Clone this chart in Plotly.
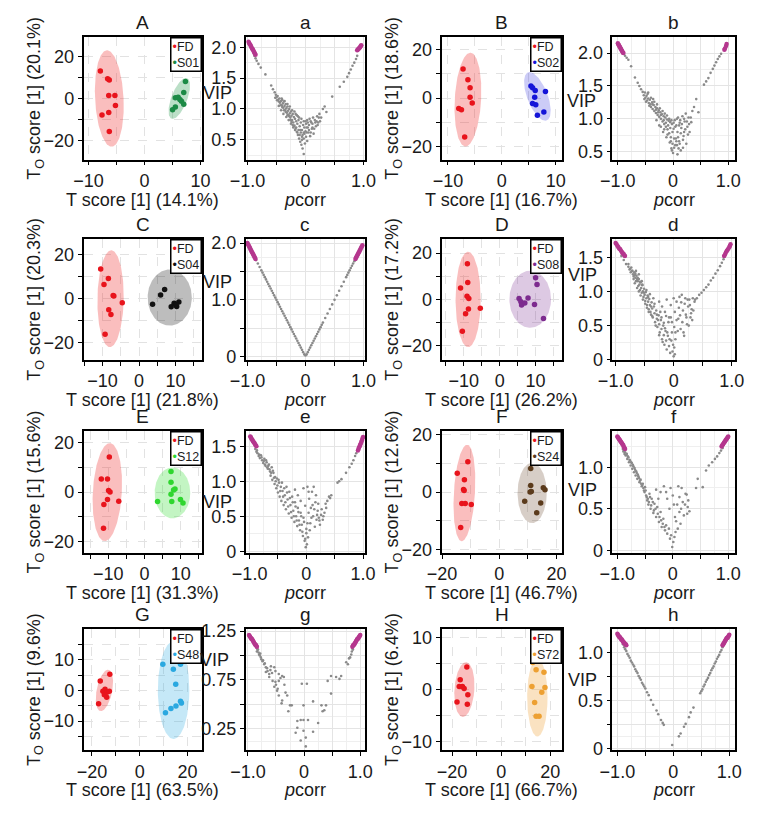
import numpy as np
import plotly.graph_objects as go

W, H = 770, 819
FONT = "Liberation Sans, Arial, Helvetica, sans-serif"
TXT = "#1a1a1a"

# ---------------- score plots (T score vs To score) ----------------
A_FD_X = [-7.9, -6.3, -6.6, -6.4, -5.3, -5.2, -7.6, -6.4, -6.3]
A_FD_Y = [13.0, 8.8, 9.3, 1.4, 1.4, -3.3, -7.9, -6.7, -15.7]
A_GR_X = [7.3, 7.0, 5.5, 6.0, 6.3, 6.6, 7.0, 5.5, 5.0]
A_GR_Y = [8.0, 2.8, 0.3, 0.6, -0.5, -1.3, -2.7, -4.0, -5.3]

B_FD_X = [-7.2, -6.3, -5.9, -5.9, -5.5, -8.0, -7.5, -6.9]
B_FD_Y = [12.0, 7.6, 4.3, 0.4, -2.0, -4.3, -4.8, -16.0]
B_GR_X = [5.4, 5.7, 6.2, 6.1, 5.7, 6.3, 8.1, 6.6, 7.8]
B_GR_Y = [5.0, 4.3, 3.1, 0.4, -2.2, -2.7, 2.7, -7.1, -5.7]

C_FD_X = [-10.5, -8.4, -9.6, -7.1, -6.9, -4.6, -8.3, -7.7, -9.3]
C_FD_Y = [13.5, 9.2, 6.5, 1.5, 1.2, -1.8, -5.1, -7.2, -16.2]
C_GR_X = [9.6, 7.0, 5.9, 3.7, 8.8, 9.6, 10.3, 10.9, 10.1]
C_GR_Y = [12.5, 4.2, 1.7, -2.5, -3.7, -2.1, -3.6, -1.5, -2.7]

D_FD_X = [-9.0, -8.9, -10.9, -9.1, -8.6, -8.7, -5.4, -9.5, -10.4]
D_FD_Y = [15.4, 7.3, 4.9, 1.3, 0.3, -4.2, -3.9, -6.3, -13.9]
D_GR_X = [10.0, 10.4, 5.4, 5.9, 6.1, 7.0, 7.9, 9.7, 12.2]
D_GR_Y = [9.3, 6.4, 0.3, -1.1, -2.5, -1.6, 0.5, -2.3, -8.4]

E_FD_X = [-9.7, -11.9, -10.2, -9.9, -9.5, -10.2, -11.2, -7.1, -11.3]
E_FD_Y = [14.2, 5.3, 5.3, 0.7, 0.0, -3.0, -5.0, -3.7, -14.6]
E_GR_X = [7.3, 7.3, 8.4, 8.0, 7.3, 3.6, 7.5, 9.9, 10.6]
E_GR_Y = [8.3, 4.0, 1.3, 0.9, -0.9, -3.8, -3.8, -3.0, -4.4]

F_FD_X = [-11.0, -14.7, -12.2, -12.5, -12.3, -13.1, -11.9, -9.8, -13.5]
F_FD_Y = [10.6, 6.6, 4.3, 0.9, 0.6, -4.0, -4.0, -4.3, -12.3]
F_GR_X = [11.0, 11.0, 10.8, 11.2, 15.4, 16.0, 8.9, 14.5, 13.1]
F_GR_Y = [8.2, 2.3, 0.0, 0.2, 1.5, 0.8, -3.2, -3.8, -7.2]

G_FD_X = [-12.5, -16.5, -14.5, -15.4, -13.7, -12.7, -13.8, -17.2, -14.8]
G_FD_Y = [5.3, 3.1, 0.4, -0.3, -0.6, -0.3, -2.2, -4.3, -1.4]
G_GR_X = [9.7, 17.1, 14.1, 15.1, 17.1, 17.5, 15.2, 13.1, 10.8]
G_GR_Y = [8.5, 8.5, 6.9, 2.0, -3.5, -4.1, -5.1, -5.9, -7.3]

H_FD_X = [-14.0, -16.7, -17.1, -15.8, -15.1, -13.6, -18.0, -13.8]
H_FD_Y = [4.3, 1.9, 0.6, 0.6, 0.2, -1.0, -2.4, -2.8]
H_GR_X = [12.8, 14.2, 17.4, 12.5, 17.8, 16.5, 13.6, 14.2, 15.4]
H_GR_Y = [5.2, 3.8, 3.3, 0.6, 0.4, -0.5, -2.5, -5.1, -5.1]

# confidence ellipses: centre x, centre y, x radius, y radius, shear of x with y
A_ELL_FD = [-6.3, 0.0, 2.55, 22.9, -0.4]
A_ELL_GR = [6.2, 0.0, 1.5, 9.7, 1.2]
B_ELL_FD = [-6.3, -0.6, 2.45, 19.3, 0.45]
B_ELL_GR = [6.6, 0.7, 2.0, 10.0, -1.45]
C_ELL_FD = [-7.8, 0.0, 3.6, 22.1, 0.2]
C_ELL_GR = [8.4, 0.5, 6.05, 12.8, 0.0]
D_ELL_FD = [-8.8, -0.1, 3.5, 20.7, 0.0]
D_ELL_GR = [8.5, 0.0, 5.8, 12.4, 0.0]
E_ELL_FD = [-10.25, 0.0, 4.0, 19.8, 0.7]
E_ELL_GR = [7.7, -0.3, 4.9, 10.3, 0.0]
F_ELL_FD = [-12.2, -0.3, 3.7, 16.8, 0.95]
F_ELL_GR = [11.5, -0.3, 5.1, 10.5, 0.0]
G_ELL_FD = [-14.75, 0.0, 3.3, 6.75, 1.5]
G_ELL_GR = [14.2, 0.1, 6.6, 15.9, 0.0]
H_ELL_FD = [-15.0, 0.0, 4.05, 5.25, 0.66]
H_ELL_GR = [14.7, -1.5, 4.15, 7.5, 0.0]

GROUPS = ["S01", "S02", "S04", "S08", "S12", "S24", "S48", "S72"]
T_PCT = ["14.1%", "16.7%", "21.8%", "26.2%", "31.3%", "46.7%", "63.5%", "66.7%"]
TO_PCT = ["20.1%", "18.6%", "20.3%", "17.2%", "15.6%", "12.6%", "9.6%", "6.4%"]

# ---------------- VIP vs pcorr ----------------
VA_PC = [-0.88,-0.86,-0.84,-0.81,-0.77,-0.69,-0.59,-0.56,-0.53,-0.51,
         -0.50,-0.48,-0.47,-0.45,-0.44,-0.42,-0.41,-0.40,-0.39,-0.38,
         -0.37,-0.36,-0.35,-0.34,-0.33,-0.32,-0.31,-0.30,-0.29,-0.28,
         -0.27,-0.26,-0.25,-0.24,-0.23,-0.22,-0.21,-0.20,-0.19,-0.18,
         -0.17,-0.16,-0.15,-0.14,-0.13,-0.12,-0.11,-0.10,-0.09,-0.08,
         -0.07,-0.06,-0.05,-0.04,-0.03,-0.02,-0.01,0.00,0.01,0.02,
         0.03,0.04,0.05,0.06,0.08,0.09,0.11,0.12,0.14,0.16,
         0.18,0.20,0.22,0.24,0.27,0.30,0.33,0.36,0.46,0.59,
         0.66,0.72,0.75,0.78,0.81,0.84,0.87,0.89,-0.46,-0.42,
         -0.38,-0.33,-0.29,-0.25,-0.21,-0.17,-0.13,-0.09,-0.06,-0.03,
         -0.52,-0.49,-0.46,-0.43,-0.40,-0.37,-0.34,-0.31,-0.28,-0.26,
         -0.24,-0.22,-0.20,-0.18,-0.16,-0.14,-0.12,-0.10,-0.08,-0.06,
         -0.05,-0.03,-0.02,0.00,0.01,0.02,0.03,0.04,0.06,0.07,
         0.09,0.10,0.12,0.13,0.15,0.17,0.19,0.21,0.23,0.25,
         -0.41,-0.36,-0.31,-0.27,-0.23,-0.19,-0.15,-0.11,-0.07,-0.03]
VA_V = [1.86,1.82,1.78,1.73,1.67,1.56,1.38,1.32,1.27,1.23,
        1.19,1.21,1.15,1.17,1.10,1.13,1.06,1.15,1.09,1.02,
        1.12,1.05,0.98,1.08,1.01,0.94,1.04,0.97,0.90,1.00,
        0.93,0.86,0.96,0.89,0.82,0.92,0.78,0.87,0.73,0.84,
        0.68,0.80,0.63,0.76,0.58,0.82,0.52,0.72,0.47,0.78,
        0.42,0.66,0.36,0.74,0.27,0.60,0.44,0.80,0.55,0.70,
        0.48,0.78,0.62,0.74,0.56,0.80,0.68,0.76,0.60,0.82,
        0.72,0.88,0.78,0.92,0.86,1.00,1.04,0.95,1.20,1.36,
        1.44,1.52,1.58,1.64,1.70,1.75,1.81,1.86,1.05,0.98,
        0.92,0.87,0.82,0.76,0.70,0.92,0.88,0.66,0.55,0.62,
        1.18,1.14,1.12,1.06,1.03,0.98,0.95,0.90,0.88,0.82,
        0.79,0.74,0.72,0.66,0.70,0.62,0.66,0.58,0.62,0.50,
        0.58,0.52,0.70,0.64,0.76,0.62,0.82,0.70,0.66,0.84,
        0.62,0.78,0.70,0.86,0.68,0.78,0.80,0.74,0.86,0.80,
        1.17,1.13,1.08,1.04,0.98,0.96,0.90,0.86,0.84,0.80]
MA_PC = [-0.98,-0.97,-0.96,-0.95,-0.94,-0.93,-0.92,-0.91,-0.90,-0.89,-0.88,-0.87,-0.86,
         0.89,0.90,0.91,0.92,0.93,0.94,0.95,0.96]
MA_V = [2.09,2.07,2.05,2.04,2.02,2.00,1.98,1.97,1.95,1.93,1.91,1.90,1.88,
        1.95,1.96,1.97,1.98,1.99,2.00,2.02,2.03]

VB_PC = [-0.90,-0.87,-0.84,-0.81,-0.76,-0.69,-0.64,-0.61,-0.58,-0.55,
         -0.53,-0.51,-0.50,-0.48,-0.47,-0.45,-0.44,-0.42,-0.41,-0.40,
         -0.38,-0.37,-0.35,-0.34,-0.32,-0.31,-0.29,-0.28,-0.26,-0.25,
         -0.23,-0.22,-0.20,-0.19,-0.17,-0.16,-0.14,-0.13,-0.11,-0.10,
         -0.08,-0.07,-0.05,-0.04,-0.02,-0.01,0.00,0.01,0.02,0.03,
         0.05,0.06,0.08,0.09,0.11,0.12,0.14,0.15,0.17,0.19,
         0.21,0.23,0.24,0.26,0.28,0.30,0.33,0.38,0.42,0.46,
         -0.30,-0.25,-0.18,-0.12,-0.06,-0.03,0.07,0.10,0.56,0.60,
         0.64,0.68,0.72,0.75,0.78,0.81,0.84,0.87,-0.45,-0.36,
         -0.52,-0.49,-0.46,-0.43,-0.40,-0.37,-0.34,-0.31,-0.29,-0.27,
         -0.24,-0.22,-0.19,-0.17,-0.15,-0.13,-0.11,-0.09,-0.07,-0.05,
         -0.03,-0.01,0.01,0.02,0.04,0.06,0.07,0.09,0.11,0.13,
         0.14,0.16,0.18,0.20,0.22,0.25,0.27,0.29,0.32,0.35,
         -0.22,-0.16,-0.10,-0.04,0.04,0.12,0.18,0.08,-0.02,0.20]
VB_V = [2.00,1.96,1.93,1.90,1.80,1.63,1.55,1.50,1.45,1.41,
        1.36,1.40,1.32,1.35,1.28,1.31,1.24,1.29,1.22,1.18,
        1.25,1.15,1.21,1.12,1.18,1.09,1.16,1.06,1.13,1.03,
        1.10,1.00,1.07,0.96,1.04,0.92,1.02,0.88,0.99,0.84,
        0.97,0.78,0.95,0.72,0.92,0.62,0.48,0.85,0.56,0.98,
        0.70,0.90,0.80,1.02,0.66,0.94,0.52,0.86,1.04,0.74,
        0.96,1.08,0.62,0.88,1.02,0.80,0.95,1.18,1.30,1.10,
        0.98,0.90,0.80,0.72,0.64,0.55,0.60,0.55,1.52,1.57,
        1.62,1.70,1.76,1.81,1.86,1.91,1.95,1.99,1.40,1.30,
        1.30,1.26,1.38,1.20,1.32,1.22,1.26,1.14,1.22,1.10,
        1.16,1.06,1.12,0.98,1.08,0.94,1.05,0.90,1.00,0.86,
        0.98,0.80,0.94,0.70,0.88,0.66,1.00,0.72,0.90,0.98,
        0.78,0.92,0.68,1.00,0.84,0.96,0.76,0.92,1.02,1.12,
        0.88,0.84,0.76,0.66,0.60,0.62,0.56,0.46,0.52,0.80]
MB_PC = [-1.00,-0.99,-0.98,-0.97,-0.96,-0.95,-0.94,-0.93,-0.92,-0.91,-0.90,
         0.93,0.94,0.96,0.97]
MB_V = [2.15,2.13,2.12,2.10,2.09,2.07,2.06,2.04,2.03,2.01,2.00,
        2.05,2.07,2.11,2.14]

VC_PC = [-0.91,-0.88,-0.85,-0.82,-0.79,-0.76,-0.74,-0.72,-0.70,-0.68,
         -0.66,-0.64,-0.62,-0.60,-0.58,-0.56,-0.54,-0.52,-0.50,-0.48,
         -0.46,-0.44,-0.42,-0.40,-0.38,-0.36,-0.34,-0.32,-0.30,-0.28,
         -0.26,-0.24,-0.22,-0.20,-0.18,-0.16,-0.14,-0.12,-0.10,-0.08,
         -0.06,-0.04,-0.02,
         0.00,0.02,0.04,0.06,0.08,0.10,0.12,0.14,0.16,0.18,
         0.20,0.22,0.24,0.26,0.28,0.30,0.34,0.38,0.42,0.46,
         0.50,0.54,0.58,0.62,0.66,0.70,0.72,0.74,0.76,0.78,
         0.80,0.82,0.84,0.86,0.88,0.90,0.92]
VC_V = [1.82,1.76,1.70,1.64,1.58,1.52,1.48,1.44,1.40,1.36,
        1.32,1.28,1.24,1.20,1.16,1.12,1.08,1.04,1.00,0.96,
        0.92,0.88,0.84,0.80,0.76,0.72,0.68,0.64,0.60,0.56,
        0.52,0.48,0.44,0.40,0.36,0.32,0.28,0.24,0.20,0.16,
        0.12,0.08,0.04,
        0.02,0.04,0.08,0.12,0.16,0.20,0.24,0.28,0.32,0.36,
        0.40,0.44,0.48,0.52,0.56,0.60,0.68,0.76,0.84,0.92,
        1.00,1.08,1.16,1.24,1.32,1.40,1.44,1.48,1.52,1.56,
        1.60,1.64,1.68,1.72,1.76,1.80,1.84]
MC_PC = [-1.00,-0.99,-0.98,-0.97,-0.96,-0.95,-0.94,-0.93,-0.92,-0.91,-0.90,-0.89,-0.88,-0.87,-0.86,
         0.86,0.87,0.88,0.89,0.90,0.91,0.92,0.93,0.94,0.95,0.96,0.97,0.98]
MC_V = [2.00,1.98,1.96,1.94,1.92,1.90,1.88,1.86,1.84,1.82,1.80,1.78,1.76,1.74,1.72,
        1.72,1.74,1.76,1.78,1.80,1.82,1.84,1.86,1.88,1.90,1.92,1.94,1.96]

VD_PC = [-0.90,-0.86,-0.82,-0.78,-0.75,-0.73,-0.70,-0.68,-0.66,-0.64,
         -0.62,-0.60,-0.59,-0.57,-0.56,-0.54,-0.53,-0.51,-0.50,-0.48,
         -0.47,-0.45,-0.44,-0.42,-0.41,-0.40,-0.38,-0.37,-0.36,-0.34,
         -0.33,-0.32,-0.30,-0.29,-0.28,-0.26,-0.25,-0.24,-0.22,-0.21,
         -0.20,-0.18,-0.17,-0.16,-0.14,-0.13,-0.12,-0.10,-0.08,-0.06,
         -0.04,-0.02,0.00,0.01,-0.25,-0.20,-0.15,-0.12,-0.08,-0.05,
         -0.03,0.00,0.02,0.03,0.05,0.08,0.10,0.12,0.14,0.16,
         0.18,0.20,0.22,0.24,0.26,0.28,0.30,0.32,0.34,0.36,
         0.40,0.44,0.48,0.52,0.56,0.60,0.64,0.68,0.72,0.76,
         0.80,0.83,0.86,0.88,-0.72,-0.69,-0.67,-0.65,-0.63,-0.61,
         -0.58,-0.55,-0.52,-0.49,-0.46,-0.43,-0.39,-0.55,-0.60,-0.65,
         -0.78,-0.76,-0.74,-0.71,-0.69,-0.67,-0.66,-0.63,-0.62,-0.60,
         -0.58,-0.57,-0.54,-0.53,-0.51,-0.49,-0.47,-0.46,-0.44,-0.43,
         -0.41,-0.39,-0.37,-0.35,-0.33,-0.31,-0.29,-0.27,-0.25,-0.23,
         -0.21,-0.19,-0.17,-0.15,-0.13,-0.11,-0.09,-0.07,-0.05,-0.03,
         -0.01,0.01,0.02,0.03,0.05,0.07,0.09,0.11,0.13,0.15,
         0.17,0.19,0.21,0.23,0.25,0.27,0.29,0.31,0.33,0.37]
VD_V = [1.52,1.46,1.40,1.36,1.33,1.35,1.25,1.28,1.20,1.23,
        1.15,1.18,1.10,1.13,1.05,1.09,1.00,1.04,0.95,0.99,
        0.90,0.94,0.85,0.89,0.80,0.70,0.84,0.75,0.62,0.78,
        0.68,0.55,0.72,0.60,0.48,0.65,0.52,0.40,0.58,0.45,
        0.30,0.50,0.36,0.22,0.42,0.28,0.15,0.35,0.20,0.10,
        0.28,0.12,0.05,0.18,0.85,0.78,0.70,0.88,0.62,0.80,
        0.55,0.90,0.70,0.40,0.85,0.60,0.92,0.45,0.95,0.72,
        0.35,0.90,0.62,0.88,0.50,0.80,0.68,0.58,0.72,0.85,
        0.90,0.95,0.98,1.02,1.06,1.10,1.16,1.20,1.26,1.31,
        1.37,1.42,1.47,1.51,1.30,1.22,1.24,1.15,1.18,1.08,
        1.02,0.98,0.92,0.86,0.80,0.74,0.66,1.15,1.25,1.30,
        1.40,1.32,1.28,1.30,1.18,1.12,1.26,1.05,1.20,1.00,
        1.14,0.94,1.10,0.88,0.98,0.82,1.02,0.76,0.92,0.70,
        0.96,0.78,0.64,0.90,0.82,0.50,0.66,0.58,0.36,0.70,
        0.62,0.26,0.54,0.46,0.64,0.40,0.55,0.30,0.62,0.40,
        0.22,0.48,0.08,0.30,0.58,0.42,0.76,0.65,0.84,0.55,
        0.40,0.82,0.66,0.52,0.78,0.88,0.62,0.74,0.90,0.88]
MD_PC = [-1.00,-0.985,-0.97,-0.955,-0.94,-0.925,-0.91,-0.895,-0.88,-0.865,-0.85,-0.84,
         0.87,0.885,0.90,0.915,0.93,0.945,0.96,0.97,0.98]
MD_V = [1.71,1.69,1.67,1.65,1.63,1.62,1.60,1.58,1.56,1.55,1.53,1.52,
        1.52,1.54,1.57,1.59,1.61,1.63,1.65,1.67,1.69]

VE_PC = [-0.90,-0.88,-0.86,-0.84,-0.82,-0.80,-0.78,-0.76,-0.74,-0.72,
         -0.70,-0.68,-0.66,-0.64,-0.63,-0.61,-0.60,-0.58,-0.56,-0.55,
         -0.53,-0.52,-0.50,-0.48,-0.47,-0.45,-0.44,-0.42,-0.40,-0.38,
         -0.36,-0.35,-0.33,-0.31,-0.30,-0.28,-0.26,-0.25,-0.23,-0.21,
         -0.20,-0.18,-0.16,-0.15,-0.13,-0.11,-0.10,-0.08,-0.06,-0.05,
         -0.03,-0.01,0.00,0.01,-0.20,-0.15,-0.10,-0.05,-0.02,0.02,
         0.04,0.05,0.07,0.08,0.10,0.12,0.13,0.15,0.16,0.18,
         0.20,0.22,0.24,0.26,0.29,0.32,0.35,0.40,0.42,0.44,
         0.55,0.58,0.62,0.70,0.76,0.80,0.83,0.86,0.88,0.90,
         -0.87,-0.83,-0.79,-0.75,-0.73,-0.71,-0.69,-0.67,-0.65,-0.62,
         -0.59,-0.57,-0.54,-0.51,-0.49,-0.46,-0.43,-0.41,-0.39,-0.37,
         -0.34,-0.32,-0.29,-0.27,-0.24,-0.22,-0.19,-0.17,-0.14,-0.12,
         -0.09,-0.07,-0.04,-0.02,0.00,0.02,0.03,0.06,0.09,0.11,
         0.14,0.17,0.19,0.21,0.23,0.27,0.30,0.34,0.37,0.04]
VE_V = [1.46,1.42,1.40,1.36,1.33,1.37,1.30,1.26,1.32,1.22,
        1.27,1.18,1.24,1.14,1.08,1.20,1.02,1.12,0.96,1.06,
        0.90,1.04,0.84,0.98,0.78,0.92,0.72,0.86,0.66,0.80,
        0.60,0.92,0.74,0.54,0.85,0.66,0.48,0.78,0.58,0.42,
        0.70,0.50,0.36,0.62,0.44,0.30,0.55,0.38,0.22,0.48,
        0.15,0.06,0.32,0.10,0.88,0.80,0.72,0.90,0.65,0.92,
        0.55,0.75,0.40,0.62,0.85,0.50,0.92,0.35,0.70,0.45,
        0.58,0.48,0.38,0.52,0.45,0.55,0.62,0.78,0.76,0.80,
        0.98,1.00,1.03,1.12,1.20,1.25,1.30,1.36,1.40,1.44,
        1.44,1.38,1.34,1.29,1.24,1.30,1.20,1.22,1.17,1.12,
        1.15,1.05,1.00,0.94,1.02,0.86,0.98,0.78,0.90,0.70,
        0.84,0.64,0.76,0.56,0.70,0.50,0.64,0.44,0.56,0.38,
        0.50,0.28,0.42,0.18,0.26,0.40,0.20,0.30,0.48,0.66,
        0.60,0.80,0.52,0.68,0.44,0.60,0.50,0.68,0.72,0.85]
ME_PC = [-0.99,-0.98,-0.97,-0.96,-0.95,-0.94,-0.93,-0.92,-0.91,-0.90,-0.89,-0.88,
         0.91,0.92,0.93,0.94,0.95,0.96,0.97,0.98,0.99,1.00]
ME_V = [1.64,1.63,1.61,1.60,1.59,1.57,1.56,1.55,1.54,1.52,1.51,1.50,
        1.44,1.46,1.48,1.50,1.52,1.54,1.56,1.58,1.61,1.63]

VF_PC = [-0.90,-0.88,-0.86,-0.85,-0.83,-0.82,-0.80,-0.79,-0.77,-0.76,
         -0.74,-0.73,-0.71,-0.70,-0.68,-0.67,-0.65,-0.64,-0.62,-0.60,
         -0.58,-0.56,-0.54,-0.52,-0.50,-0.48,-0.46,-0.44,-0.42,-0.40,
         -0.38,-0.35,-0.33,-0.30,-0.28,-0.25,-0.22,-0.20,-0.17,-0.14,
         -0.12,-0.10,-0.07,-0.05,-0.03,-0.01,0.01,0.03,-0.30,-0.22,
         -0.16,-0.10,-0.04,0.02,0.06,0.10,0.12,0.16,0.18,0.20,
         0.23,0.25,0.27,0.28,0.30,0.09,0.05,0.14,0.42,0.45,
         0.54,0.60,0.65,0.71,0.76,0.80,0.84,0.87,0.90,-0.87,
         -0.89,-0.87,-0.84,-0.81,-0.78,-0.75,-0.72,-0.69,-0.66,-0.63,
         -0.61,-0.59,-0.57,-0.55,-0.53,-0.51,-0.49,-0.47,-0.45,-0.43,
         -0.41,-0.39,-0.36,-0.34,-0.31,-0.27,-0.24,-0.21,-0.18,-0.15,
         -0.26,-0.12,-0.06,0.00,0.04,0.08,0.12,0.15,0.22,0.26]
VF_V = [1.22,1.20,1.18,1.14,1.16,1.10,1.12,1.06,1.08,1.02,
        1.05,0.98,1.01,0.94,0.97,0.90,0.93,0.86,0.89,0.82,
        0.85,0.77,0.80,0.72,0.76,0.66,0.60,0.55,0.68,0.50,
        0.62,0.45,0.56,0.40,0.52,0.34,0.46,0.28,0.38,0.24,
        0.30,0.20,0.26,0.14,0.18,0.04,0.10,0.16,0.73,0.70,
        0.77,0.62,0.75,0.55,0.35,0.77,0.46,0.75,0.58,0.42,
        0.68,0.67,0.52,0.60,0.47,0.26,0.22,0.32,0.75,0.86,
        0.76,0.96,1.02,1.06,1.10,1.13,1.17,1.20,1.23,1.16,
        1.19,1.21,1.15,1.13,1.09,1.06,1.03,0.99,0.95,0.91,
        0.87,0.84,0.80,0.78,0.75,0.70,0.72,0.64,0.62,0.58,
        0.64,0.54,0.58,0.48,0.50,0.44,0.40,0.36,0.32,0.28,
        0.62,0.70,0.50,0.66,0.40,0.55,0.64,0.50,0.55,0.44]
MF_PC = [-1.00,-0.99,-0.98,-0.97,-0.96,-0.95,-0.94,-0.93,-0.92,-0.91,-0.90,-0.89,-0.88,-0.87,-0.86,
         0.88,0.89,0.90,0.91,0.92,0.93,0.94,0.95,0.96,0.97,0.98,0.99,1.00]
MF_V = [1.37,1.36,1.35,1.34,1.33,1.32,1.31,1.30,1.29,1.28,1.27,1.26,1.24,1.23,1.22,
        1.25,1.26,1.27,1.28,1.29,1.30,1.31,1.32,1.33,1.34,1.35,1.36,1.37]

VG_PC = [-0.83,-0.80,-0.77,-0.74,-0.71,-0.68,-0.65,-0.62,-0.68,-0.59,
         -0.53,-0.51,-0.45,-0.39,-0.36,-0.56,-0.51,-0.45,-0.53,-0.48,
         -0.45,-0.30,-0.39,-0.40,-0.22,-0.25,-0.28,-0.01,-0.04,0.05,
         0.16,0.31,0.39,0.36,0.33,0.25,0.48,0.42,0.48,0.57,
         0.63,0.66,0.75,0.78,0.84,0.87,-0.12,-0.06,-0.01,0.07,
         -0.12,-0.15,-0.01,-0.06,0.03,0.03,0.16,-0.86,-0.85,-0.84,
         -0.82,-0.81,-0.79,-0.78,-0.76,-0.73,-0.70,-0.66,-0.60,-0.57,
         0.82,0.85,-0.42,-0.62,-0.50,-0.47,-0.35,-0.33,0.80,0.86]
VG_V = [1.06,1.01,0.98,0.94,0.91,0.88,0.84,0.81,0.83,0.89,
        0.88,0.84,0.81,0.79,0.78,0.74,0.73,0.74,0.68,0.64,
        0.59,0.59,0.54,0.51,0.49,0.49,0.43,0.49,0.71,0.71,
        0.53,0.49,0.49,0.44,0.43,0.31,0.61,0.74,0.79,0.78,
        0.76,0.79,0.93,0.91,1.01,1.06,0.33,0.34,0.34,0.34,
        0.26,0.21,0.23,0.13,0.16,0.07,0.22,1.10,1.08,1.04,
        1.06,1.03,1.00,1.02,0.96,0.95,0.92,0.87,0.85,0.82,
        0.98,1.04,0.77,0.78,0.70,0.66,0.70,0.62,0.97,1.07]
MG_PC = [-0.98,-0.97,-0.96,-0.95,-0.94,-0.93,-0.92,-0.91,-0.90,-0.89,-0.88,-0.87,-0.86,-0.85,-0.84,
         0.86,0.87,0.88,0.89,0.90,0.91,0.92,0.93,0.94,0.95,0.96,0.97,0.98,0.99,1.00]
MG_V = [1.21,1.20,1.19,1.18,1.17,1.17,1.16,1.15,1.14,1.13,1.12,1.11,1.11,1.10,1.09,
        1.09,1.10,1.11,1.11,1.12,1.13,1.14,1.15,1.16,1.17,1.17,1.18,1.19,1.20,1.21]

VH_PC = [-0.90,-0.88,-0.86,-0.84,-0.82,-0.80,-0.78,-0.76,-0.74,-0.72,
         -0.70,-0.68,-0.66,-0.64,-0.62,-0.60,-0.58,-0.56,-0.54,-0.52,
         -0.50,-0.47,-0.44,-0.40,-0.36,-0.30,-0.27,-0.22,-0.19,-0.17,
         -0.02,
         0.10,0.13,0.19,0.22,0.28,0.31,0.36,0.48,0.50,0.52,
         0.54,0.56,0.58,0.60,0.62,0.64,0.66,0.68,0.70,0.72,
         0.74,0.76,0.78,0.80,0.82,0.84,0.86,0.88,0.90]
VH_V = [1.09,1.06,1.04,1.02,0.99,0.97,0.95,0.92,0.90,0.88,
        0.86,0.83,0.81,0.79,0.76,0.74,0.72,0.69,0.67,0.65,
        0.63,0.59,0.56,0.51,0.46,0.40,0.36,0.30,0.27,0.25,
        0.04,
        0.13,0.16,0.23,0.26,0.33,0.38,0.43,0.58,0.60,0.62,
        0.65,0.67,0.70,0.72,0.74,0.77,0.79,0.82,0.84,0.86,
        0.89,0.91,0.94,0.96,0.98,1.01,1.03,1.06,1.08]
MH_PC = [-1.00,-0.99,-0.98,-0.97,-0.96,-0.95,-0.94,-0.93,-0.92,-0.91,-0.90,-0.89,-0.88,-0.87,-0.86,-0.85,-0.84,
         0.88,0.89,0.90,0.91,0.92,0.93,0.94,0.95,0.96,0.97,0.98,0.99,1.00]
MH_V = [1.20,1.19,1.18,1.17,1.17,1.16,1.15,1.14,1.14,1.13,1.12,1.11,1.11,1.10,1.09,1.09,1.08,
        1.08,1.09,1.10,1.11,1.12,1.13,1.14,1.15,1.16,1.16,1.17,1.18,1.19]

# ---------------- styling ----------------
RED = "#e8141c"
RED_FILL = "rgba(240,40,40,0.30)"
GCOL = ["#1b8a45", "#1515d8", "#111111", "#7d2b8f", "#2fd62f", "#5b3b1c", "#2aa8e0", "#eda032"]
GFILL = ["rgba(30,150,70,0.30)", "rgba(40,40,220,0.24)", "rgba(0,0,0,0.26)",
         "rgba(125,45,145,0.26)", "rgba(40,220,40,0.28)", "rgba(95,60,30,0.25)",
         "rgba(40,170,225,0.27)", "rgba(240,160,50,0.30)"]
GREY = "#8a8a8a"
MAG = "#b5378e"

COL_PX = [(70, 193), (238, 362), (441, 566), (618, 745)]
ROW_PX = [(30, 155), (236, 360), (433, 557), (635, 759)]

M = "\u2212"
def tl(vals, show):
    return [(M + str(abs(v)) if v < 0 else str(v)) if s else "" for v, s in zip(vals, show)]

SCORE = [
    dict(L="A", fd=(A_FD_X, A_FD_Y), gr=(A_GR_X, A_GR_Y), e=(A_ELL_FD, A_ELL_GR),
         xr=[-10.9, 10.3], xv=[-10, -5, 0, 5, 10], xs=[1, 0, 1, 0, 1],
         yr=[-29, 29], yv=[-20, -10, 0, 10, 20], ys=[1, 0, 1, 0, 1]),
    dict(L="B", fd=(B_FD_X, B_FD_Y), gr=(B_GR_X, B_GR_Y), e=(B_ELL_FD, B_ELL_GR),
         xr=[-11.2, 11.2], xv=[-10, -5, 0, 5, 10], xs=[1, 0, 1, 0, 1],
         yr=[-25.3, 25], yv=[-20, -10, 0, 10, 20], ys=[1, 0, 1, 0, 1]),
    dict(L="C", fd=(C_FD_X, C_FD_Y), gr=(C_GR_X, C_GR_Y), e=(C_ELL_FD, C_ELL_GR),
         xr=[-15.2, 17.3], xv=[-15, -10, -5, 0, 5, 10, 15], xs=[0, 1, 0, 1, 0, 1, 0],
         yr=[-28, 27.3], yv=[-20, -10, 0, 10, 20], ys=[1, 0, 1, 0, 1]),
    dict(L="D", fd=(D_FD_X, D_FD_Y), gr=(D_GR_X, D_GR_Y), e=(D_ELL_FD, D_ELL_GR),
         xr=[-16.2, 17.4], xv=[-15, -10, -5, 0, 5, 10, 15], xs=[0, 1, 0, 1, 0, 1, 0],
         yr=[-26.4, 26.2], yv=[-20, -10, 0, 10, 20], ys=[1, 0, 1, 0, 1]),
    dict(L="E", fd=(E_FD_X, E_FD_Y), gr=(E_GR_X, E_GR_Y), e=(E_ELL_FD, E_ELL_GR),
         xr=[-16.8, 15.9], xv=[-15, -10, -5, 0, 5, 10, 15], xs=[0, 1, 0, 1, 0, 1, 0],
         yr=[-24.5, 24.5], yv=[-20, -10, 0, 10, 20], ys=[1, 0, 1, 0, 1]),
    dict(L="F", fd=(F_FD_X, F_FD_Y), gr=(F_GR_X, F_GR_Y), e=(F_ELL_FD, F_ELL_GR),
         xr=[-20.2, 22.0], xv=[-20, -10, 0, 10, 20], xs=[1, 0, 1, 0, 1],
         yr=[-21.1, 21.1], yv=[-20, -10, 0, 10, 20], ys=[1, 0, 1, 0, 1]),
    dict(L="G", fd=(G_FD_X, G_FD_Y), gr=(G_GR_X, G_GR_Y), e=(G_ELL_FD, G_ELL_GR),
         xr=[-23.5, 26.2], xv=[-20, -10, 0, 10, 20], xs=[1, 0, 1, 0, 1],
         yr=[-19.5, 20], yv=[-15, -10, -5, 0, 5, 10, 15], ys=[0, 1, 0, 1, 0, 1, 0]),
    dict(L="H", fd=(H_FD_X, H_FD_Y), gr=(H_GR_X, H_GR_Y), e=(H_ELL_FD, H_ELL_GR),
         xr=[-24.3, 24.8], xv=[-20, -10, 0, 10, 20], xs=[1, 0, 1, 0, 1],
         yr=[-11.65, 11.6], yv=[-10, -5, 0, 5, 10], ys=[1, 0, 1, 0, 1]),
]

VIPS = [
    dict(L="a", g=(VA_PC, VA_V), m=(MA_PC, MA_V), xr=[-1.03, 1.03], yr=[0.18, 2.16],
         yv=[0.5, 1.0, 1.5, 2.0], yt=["0.5", "1.0", "1.5", "2.0"], ym=[0.25, 0.75, 1.25, 1.75], vp=(209, 87)),
    dict(L="b", g=(VB_PC, VB_V), m=(MB_PC, MB_V), xr=[-1.1, 1.12], yr=[0.38, 2.24],
         yv=[0.5, 1.0, 1.5, 2.0], yt=["0.5", "1.0", "1.5", "2.0"], ym=[0.75, 1.25, 1.75], vp=(586, 95)),
    dict(L="c", g=(VC_PC, VC_V), m=(MC_PC, MC_V), xr=[-1.03, 1.03], yr=[-0.06, 2.075],
         yv=[0, 0.5, 1.0, 1.5, 2.0], yt=["0", "", "1.0", "", "2.0"], ym=[0.25, 0.75, 1.25, 1.75], vp=(209, 280)),
    dict(L="d", g=(VD_PC, VD_V), m=(MD_PC, MD_V), xr=[-1.057, 1.055], yr=[-0.005, 1.77],
         yv=[0, 0.5, 1.0, 1.5], yt=["0", "0.5", "1.0", "1.5"], ym=[0.25, 0.75, 1.25, 1.75], vp=(587, 273)),
    dict(L="e", g=(VE_PC, VE_V), m=(ME_PC, ME_V), xr=[-1.07, 1.04], yr=[-0.02, 1.71],
         yv=[0, 0.5, 1.0, 1.5], yt=["0", "0.5", "1.0", "1.5"], ym=[0.25, 0.75, 1.25], vp=(209, 505)),
    dict(L="f", g=(VF_PC, VF_V), m=(MF_PC, MF_V), xr=[-1.09, 1.12], yr=[-0.03, 1.43],
         yv=[0, 0.5, 1.0], yt=["0", "0.5", "1.0"], ym=[0.25, 0.75, 1.25], vp=(587, 493)),
    dict(L="g", g=(VG_PC, VG_V), m=(MG_PC, MG_V), xr=[-1.04, 1.09], yr=[0.03, 1.27],
         yv=[0.25, 0.5, 0.75, 1.0, 1.25], yt=["0.25", "", "0.75", "", "1.25"],
         ym=[0.125, 0.375, 0.625, 0.875, 1.125], vp=(206, 667)),
    dict(L="h", g=(VH_PC, VH_V), m=(MH_PC, MH_V), xr=[-1.09, 1.10], yr=[-0.016, 1.25],
         yv=[0, 0.25, 0.5, 0.75, 1.0], yt=["0", "", "0.5", "", "1.0"],
         ym=[0.125, 0.375, 0.625, 0.875, 1.125], vp=(587, 687)),
]

fig = go.Figure()
layout = dict(width=W, height=H, margin=dict(l=0, r=0, t=0, b=0),
              paper_bgcolor="white", plot_bgcolor="white", showlegend=False,
              font=dict(family=FONT, color=TXT))
annotations = []
FS = 18

def ann(text, xpx, ypx, size=FS, angle=0, **kw):
    d = dict(text=text, x=xpx / W, y=1 - ypx / H, xref="paper", yref="paper", showarrow=False,
             font=dict(family=FONT, size=size, color=TXT), textangle=angle,
             xanchor="center", yanchor="middle")
    d.update(kw)
    return d

def axis_base(domain, rng, vals, text, anchor, grid_dash, minor=None):
    d = dict(domain=domain, range=rng, anchor=anchor, tickmode="array", tickvals=vals, ticktext=text,
             showline=True, linecolor="black", linewidth=1.6, mirror=True,
             ticks="outside", ticklen=4, tickwidth=1.1, tickcolor="black",
             tickfont=dict(family=FONT, size=FS, color=TXT), zeroline=False,
             showgrid=True, gridcolor="#e2e2e2" if grid_dash else "#e4e4e4", gridwidth=1,
             griddash="dash" if grid_dash else "solid", fixedrange=True)
    if minor is not None:
        d["minor"] = dict(tickvals=minor, showgrid=True, gridcolor="#efefef", gridwidth=1, ticks="")
    return d

def ellipse_xy(p):
    cx, cy, rx, ry, sx = p
    t = np.linspace(0, 2 * np.pi, 160)
    return cx + rx * np.cos(t) + sx * np.sin(t), cy + ry * np.sin(t)

idx = 0
for k in range(8):
    row = k // 2
    side = k % 2
    top, bot = ROW_PX[row]
    # ---------- score panel ----------
    idx += 1
    sp = SCORE[k]
    l, r = COL_PX[side * 2]
    xa = "x" if idx == 1 else f"x{idx}"
    ya = "y" if idx == 1 else f"y{idx}"
    xk = "xaxis" if idx == 1 else f"xaxis{idx}"
    yk = "yaxis" if idx == 1 else f"yaxis{idx}"
    layout[xk] = axis_base([l / W, r / W], sp["xr"], sp["xv"], tl(sp["xv"], sp["xs"]), ya, True)
    layout[yk] = axis_base([1 - bot / H, 1 - top / H], sp["yr"], sp["yv"], tl(sp["yv"], sp["ys"]), xa, True)
    for p, fc in ((sp["e"][0], RED_FILL), (sp["e"][1], GFILL[k])):
        ex, ey = ellipse_xy(p)
        fig.add_trace(go.Scatter(x=ex, y=ey, mode="lines", fill="toself", fillcolor=fc,
                                 line=dict(width=0, color=fc), hoverinfo="skip", xaxis=xa, yaxis=ya))
    fig.add_trace(go.Scatter(x=sp["fd"][0], y=sp["fd"][1], mode="markers",
                             marker=dict(color=RED, size=5.5), xaxis=xa, yaxis=ya))
    fig.add_trace(go.Scatter(x=sp["gr"][0], y=sp["gr"][1], mode="markers",
                             marker=dict(color=GCOL[k], size=5.5), xaxis=xa, yaxis=ya))
    cx = (l + r) / 2
    annotations.append(ann(sp["L"], cx, top - 15, size=19))
    annotations.append(ann(f"T score [1] ({T_PCT[k]})", cx, bot + 41))
    annotations.append(ann(f"T<sub>O</sub> score [1] ({TO_PCT[k]})", l - 50, (top + bot) / 2, angle=-90))
    leg = (f"<span style='color:{RED}'>\u2022</span>FD<br>"
           f"<span style='color:{GCOL[k]}'>\u2022</span>{GROUPS[k]}")
    annotations.append(dict(text=leg, x=r / W, y=1 - top / H, xref="paper", yref="paper",
                            showarrow=False, xanchor="right", yanchor="top", align="left",
                            font=dict(family=FONT, size=12.5, color=TXT),
                            bordercolor="black", borderwidth=1.5, borderpad=1, bgcolor="white"))
    # ---------- VIP panel ----------
    idx += 1
    vp = VIPS[k]
    l, r = COL_PX[side * 2 + 1]
    xa = f"x{idx}"
    ya = f"y{idx}"
    xk = f"xaxis{idx}"
    yk = f"yaxis{idx}"
    layout[xk] = axis_base([l / W, r / W], vp["xr"], [-1, -0.5, 0, 0.5, 1],
                           [M + "1.0", "", "0", "", "1.0"], ya, False, minor=[-0.75, -0.25, 0.25, 0.75])
    layout[yk] = axis_base([1 - bot / H, 1 - top / H], vp["yr"], vp["yv"], vp["yt"], xa, False, minor=vp["ym"])
    fig.add_trace(go.Scatter(x=vp["g"][0], y=vp["g"][1], mode="markers",
                             marker=dict(color=GREY, size=2.6), xaxis=xa, yaxis=ya))
    fig.add_trace(go.Scatter(x=vp["m"][0], y=vp["m"][1], mode="markers",
                             marker=dict(color=MAG, size=4.5), xaxis=xa, yaxis=ya))
    cx = (l + r) / 2
    annotations.append(ann(vp["L"], cx, top - 15, size=19))
    annotations.append(ann("<i>p</i>corr", cx, bot + 41))
    annotations.append(ann("VIP", vp["vp"][0], vp["vp"][1]))

layout["annotations"] = annotations
fig.update_layout(**layout)
fig.write_html("out.html", config={"displayModeBar": False},
               post_script="document.body.style.margin='0px';document.body.style.padding='0px';")
